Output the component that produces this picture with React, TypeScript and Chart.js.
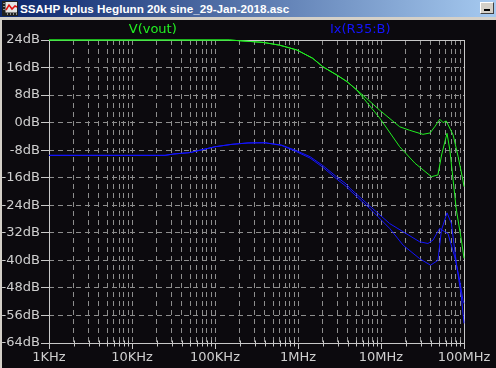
import React, { useEffect, useRef } from "react";
import { Chart, registerables } from "chart.js";

Chart.register(...registerables);

// ---- Text ----
const WINDOW_TITLE = "SSAHP kplus Heglunn 20k sine_29-Jan-2018.asc";
const SERIES_LABELS = ["V(vout)", "Ix(R35:B)"];

// ---- Axes ----
const X_MIN = 1e3;
const X_MAX = 1e8;
const X_DECADES = [1e3, 1e4, 1e5, 1e6, 1e7, 1e8];
const X_TICK_LABELS = ["1KHz", "10KHz", "100KHz", "1MHz", "10MHz", "100MHz"];
const Y_MIN = -64;
const Y_MAX = 24;
const Y_STEP = 8;

// ---- V(vout), trace 1 ----
const vout1Freq = [1e3, 1.5e5, 3.8e5, 6e5, 9.7e5, 1.5e6, 2e6, 2.95e6, 3.9e6, 5.1e6, 6.7e6, 9.6e6, 1.68e7, 2.2e7, 3.2e7, 3.9e7, 4.5e7, 5.1e7, 5.6e7, 6.1e7, 7.4e7, 8.5e7, 9.7e7, 1e8];
const vout1Db = [24, 24, 23.3, 22.5, 21.1, 18.7, 16.2, 13.8, 11.9, 9.5, 7.05, 3.65, -1.2, -2.2, -3.4, -3.0, -1.0, 1.0, 0.0, 0.5, -3.6, -9.9, -16.7, -18.6];

// ---- V(vout), trace 2 ----
const vout2Freq = [1e3, 1.5e5, 3.8e5, 6e5, 9.7e5, 1.5e6, 2e6, 2.95e6, 3.9e6, 5.1e6, 9.6e6, 1.68e7, 2.57e7, 4.05e7, 4.85e7, 5.37e7, 6.24e7, 6.76e7, 7.73e7, 8.1e7, 9.3e7, 1e8];
const vout2Db = [24, 24, 23.3, 22.5, 21.1, 18.7, 16.2, 13.8, 11.9, 9.5, 1.4, -7.0, -11.8, -15.7, -15.2, -9.4, -3.1, -8.0, -21.0, -25.4, -34.1, -39.4];

// ---- Ix(R35:B), trace 1 ----
const ix1Freq = [1e3, 2.5e4, 3.2e4, 5e4, 1e5, 1.6e5, 2.5e5, 4e5, 6.3e5, 9.5e5, 1.4e6, 2e6, 2.9e6, 3.8e6, 4.2e6, 7.3e6, 1.27e7, 1.85e7, 2.92e7, 3.68e7, 4.24e7, 5.09e7, 5.85e7, 6.41e7, 7.73e7, 8.87e7, 9.72e7, 1e8];
const ix1Db = [-9.5, -9.5, -9.1, -8.7, -7.0, -6.3, -5.9, -5.85, -6.5, -8.1, -9.9, -12.5, -15.7, -17.8, -19.0, -24.2, -29.3, -31.7, -34.6, -35.1, -34.1, -30.7, -31.7, -32.2, -39.0, -45.8, -51.6, -52.5];

// ---- Ix(R35:B), trace 2 ----
const ix2Freq = [1e3, 2.5e4, 3.2e4, 5e4, 1e5, 1.6e5, 2.5e5, 4e5, 6.3e5, 9.5e5, 1.4e6, 2e6, 2.9e6, 3.8e6, 4.2e6, 7.3e6, 1.27e7, 1.85e7, 2.92e7, 3.95e7, 4.85e7, 5.35e7, 6.25e7, 7.05e7, 8.1e7, 9.3e7, 1e8];
const ix2Db = [-9.5, -9.5, -9.1, -8.7, -7.0, -6.3, -5.9, -5.85, -6.6, -8.4, -10.3, -13.0, -16.3, -18.5, -19.6, -24.9, -30.7, -35.6, -39.5, -41.4, -40.0, -31.2, -26.2, -29.3, -40.9, -50.6, -58.3];

// ---- Styles ----
const BG = "#0c0a0e";
const FRAME = "#c8c8c8";
const GRID = "#8e8e8e";
const LABEL = "#cfcfcf";
const GREEN = "#22ee22";
const BLUE = "#1414ff";
const FONT = { family: "'DejaVu Sans', sans-serif", size: 13 };

const xGridValues: number[] = [];
for (let d = 0; d < X_DECADES.length - 1; d++) {
  for (let m = 1; m <= 9; m++) xGridValues.push(X_DECADES[d] * m);
}
xGridValues.push(X_DECADES[X_DECADES.length - 1]);

const isDecade = (v: number) => X_DECADES.some((d) => Math.abs(d - v) / d < 1e-9);

const toPoints = (fs: number[], ds: number[]) => fs.map((f, i) => ({ x: f, y: ds[i] }));

const ltspicePlugin = {
  id: "ltspiceDecor",
  beforeDatasetsDraw(chart: any) {
    const { ctx, chartArea: a, scales } = chart;
    ctx.save();
    ctx.strokeStyle = FRAME;
    ctx.lineWidth = 1;
    ctx.strokeRect(Math.round(a.left) + 0.5, Math.round(a.top) + 0.5, Math.round(a.right - a.left), Math.round(a.bottom - a.top));
    // minor ticks on the x axis
    const bottom = Math.round(a.bottom) + 0.5;
    ctx.beginPath();
    for (const v of xGridValues) {
      if (isDecade(v)) continue;
      const px = Math.round(scales.x.getPixelForValue(v)) + 0.5;
      ctx.moveTo(px, bottom - 3);
      ctx.lineTo(px, bottom + 3);
    }
    ctx.stroke();
    ctx.restore();
  },
  afterDraw(chart: any) {
    const { ctx, chartArea: a } = chart;
    ctx.save();
    ctx.font = `${FONT.size}px ${FONT.family}`;
    ctx.textAlign = "center";
    ctx.textBaseline = "middle";
    const colors = [GREEN, BLUE];
    SERIES_LABELS.forEach((label, i) => {
      const x = a.left + ((i + 0.5) / SERIES_LABELS.length) * (a.right - a.left);
      ctx.fillStyle = colors[i];
      ctx.fillText(label, x, a.top - 10);
    });
    ctx.restore();
  },
};

function PlotCanvas() {
  const ref = useRef<HTMLCanvasElement>(null);
  useEffect(() => {
    if (!ref.current) return;
    const chart = new Chart(ref.current, {
      type: "line",
      data: {
        datasets: [
          { label: SERIES_LABELS[0], data: toPoints(vout1Freq, vout1Db), borderColor: GREEN },
          { label: SERIES_LABELS[0], data: toPoints(vout2Freq, vout2Db), borderColor: GREEN },
          { label: SERIES_LABELS[1], data: toPoints(ix1Freq, ix1Db), borderColor: BLUE },
          { label: SERIES_LABELS[1], data: toPoints(ix2Freq, ix2Db), borderColor: BLUE },
        ].map((d) => ({ ...d, borderWidth: 1, pointRadius: 0, tension: 0, fill: false, clip: 2 })),
      },
      options: {
        animation: false,
        responsive: false,
        maintainAspectRatio: false,
        layout: { padding: { left: 0, top: 20, right: 32, bottom: 0 } },
        plugins: { legend: { display: false }, tooltip: { enabled: false } },
        scales: {
          x: {
            type: "logarithmic",
            min: X_MIN,
            max: X_MAX,
            afterBuildTicks: (s: any) => {
              s.ticks = xGridValues.map((v) => ({ value: v }));
            },
            afterFit: (s: any) => {
              s.height = 25;
            },
            ticks: {
              autoSkip: false,
              maxRotation: 0,
              minRotation: 0,
              color: LABEL,
              font: FONT,
              padding: 1,
              callback: (v: any) => {
                const i = X_DECADES.findIndex((d) => Math.abs(d - Number(v)) / d < 1e-9);
                return i >= 0 ? X_TICK_LABELS[i] : "";
              },
            },
            grid: {
              color: (c: any) => {
                const v = c.tick ? c.tick.value : 0;
                return v <= X_MIN * 1.0001 || v >= X_MAX * 0.9999 ? "rgba(0,0,0,0)" : GRID;
              },
              tickColor: (c: any) => (c.tick && isDecade(c.tick.value) ? FRAME : "rgba(0,0,0,0)"),
              tickLength: 6,
              lineWidth: 1,
            },
            border: { display: false, dash: [5, 4] },
          },
          y: {
            type: "linear",
            min: Y_MIN,
            max: Y_MAX,
            afterFit: (s: any) => {
              s.width = 49;
            },
            ticks: {
              stepSize: Y_STEP,
              color: LABEL,
              font: FONT,
              padding: 1,
              callback: (v: any) => `${v}dB`,
            },
            grid: {
              color: (c: any) => {
                const v = c.tick ? c.tick.value : 0;
                return v === Y_MIN || v === Y_MAX ? "rgba(0,0,0,0)" : GRID;
              },
              tickColor: FRAME,
              tickLength: 8,
              lineWidth: 1,
            },
            border: { display: false, dash: [5, 4] },
          },
        },
      },
      plugins: [ltspicePlugin],
    } as any);
    return () => chart.destroy();
  }, []);
  return <canvas ref={ref} width={496} height={348} style={{ position: "absolute", left: 0, top: 20, width: 496, height: 348 }} />;
}

function TitleIcon() {
  return (
    <svg width={16} height={15} viewBox="0 0 16 15" style={{ position: "absolute", left: 2, top: 1 }}>
      <rect x={0.5} y={0.5} width={15} height={14} fill="#e4e4e4" stroke="#202020" />
      <rect x={0.5} y={0.5} width={3} height={14} fill="#202020" />
      <rect x={0.5} y={11.5} width={15} height={3} fill="#202020" />
      {[2, 5, 8].map((y) => (
        <rect key={y} x={1.5} y={y} width={1} height={1} fill="#ffffff" />
      ))}
      {[5, 8, 11, 14].map((x) => (
        <rect key={x} x={x} y={12.5} width={1} height={1} fill="#ffffff" />
      ))}
      <polyline points="4,9 7,4 10,8 13,5 15,6" fill="none" stroke="#e01010" strokeWidth={1.5} />
    </svg>
  );
}

export default function App() {
  return (
    <div style={{ position: "relative", width: 496, height: 368, overflow: "hidden", background: BG }}>
      <style>{`html,body{margin:0;padding:0;background:#0c0a0e;}`}</style>
      <div
        style={{
          position: "absolute",
          left: 0,
          top: 0,
          width: 496,
          height: 17,
          background: "linear-gradient(to right, #0a246a, #a6caf0)",
        }}
      >
        <TitleIcon />
        <div
          style={{
            position: "absolute",
            left: 20,
            top: 0,
            color: "#ffffff",
            fontFamily: "'Liberation Sans', Arial, sans-serif",
            fontWeight: "bold",
            fontSize: 11.7,
            lineHeight: "17px",
            whiteSpace: "nowrap",
          }}
        >
          {WINDOW_TITLE}
        </div>
        <div
          style={{
            position: "absolute",
            left: 480,
            top: 2,
            width: 14,
            height: 12,
            boxSizing: "border-box",
            background: "#d4d0c8",
            borderTop: "1px solid #ffffff",
            borderLeft: "1px solid #ffffff",
            borderRight: "1px solid #404040",
            borderBottom: "1px solid #404040",
          }}
        >
          <div style={{ position: "absolute", left: 3, top: 6, width: 6, height: 2, background: "#000" }} />
        </div>
      </div>
      <div style={{ position: "absolute", left: 0, top: 17, width: 496, height: 3, background: "#d4d0c8" }} />
      <div style={{ position: "absolute", left: 0, top: 17, width: 2, height: 351, background: "#d4d0c8" }} />
      <PlotCanvas />
    </div>
  );
}
